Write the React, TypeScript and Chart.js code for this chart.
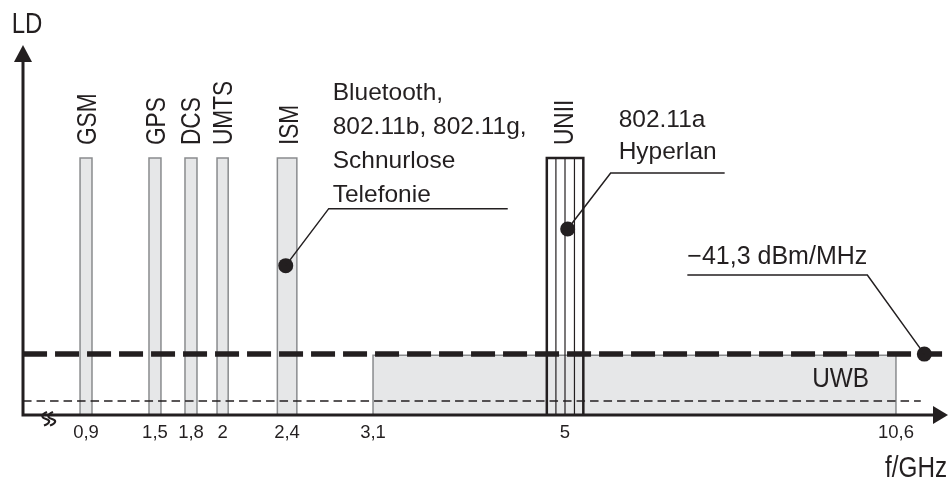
import React, { useEffect, useRef } from 'react';
import { Chart, registerables, LinearScale } from 'chart.js';

// ---------------- data ----------------
const BAND_NAMES = ['GSM', 'GPS', 'DCS', 'UMTS', 'ISM'];
const BAND_START = [0.848, 1.448, 1.75, 1.965, 2.34];   // GHz
const BAND_END = [0.952, 1.55, 1.838, 2.035, 2.48];     // GHz
const BAND_LEVEL = 70;                                  // LD (schematic)

const UNII_NAME = 'UNII';
const UNII_EDGES = [4.82, 4.91, 5.0, 5.16, 5.31];       // GHz
const UNII_LEVEL = 70;

const UWB_NAME = 'UWB';
const UWB_START = 3.1;
const UWB_END = 10.6;
const UWB_LEVEL = 16.3;

const LIMIT_LEVEL = 16.6;   // −41,3 dBm/MHz
const LOWER_LEVEL = 3.8;
const LINE_START = 0.352;
const LIMIT_END = 11.38;
const LOWER_END = 11.02;

const TICK_VALUES = [0.9, 1.5, 1.8, 2, 2.4, 3.1, 5, 10.6];
const TICK_LABELS = ['0,9', '1,5', '1,8', '2', '2,4', '3,1', '5', '10,6'];

const CALLOUT_FREQ = [2.392, 5.045, 11.08];
const CALLOUT_LEVEL = [40.7, 50.7, LIMIT_LEVEL];
const CALLOUT_TEXT = [
  ['Bluetooth,', '802.11b, 802.11g,', 'Schnurlose', 'Telefonie'],
  ['802.11a', 'Hyperlan'],
  ['\u221241,3 dBm/MHz'],
];

const Y_TITLE = 'LD';
const X_TITLE = 'f/GHz';

// ---------------- styles / layout ----------------
const INK = '#231f20';
const FILL = '#e6e7e8';
const EDGE = '#8a8c8e';
const FONT = '"Liberation Sans", Arial, sans-serif';
// schematic (broken) frequency axis: fraction of plot width at each tick value
const AXIS_FRACTIONS = [0.0691, 0.1447, 0.1842, 0.2188, 0.2895, 0.3838, 0.5943, 0.9572];
const CALLOUT_STYLE = [
  { dx: 43, dy: -57, len: 179, tx: 4, tb: -7, lh: 33.8, size: 24.5 },
  { dx: 43, dy: -56, len: 114, tx: 8, tb: -14.4, lh: 31.6, size: 24.5 },
  { dx: -57, dy: -79, len: -180, tx: -180, tb: -10.7, lh: 0, size: 25 },
];

class PiecewiseScale extends LinearScale {
  static id = 'piecewise';
  static defaults = LinearScale.defaults;
  _knots(): number[][] {
    return (this.options as any).knots as number[][];
  }
  getPixelForValue(value: number) {
    const k = this._knots();
    let i = 0;
    if (value >= k[k.length - 1][0]) i = k.length - 2;
    else {
      while (i < k.length - 2 && value > k[i + 1][0]) i++;
    }
    const [v0, f0] = k[i];
    const [v1, f1] = k[i + 1];
    const frac = f0 + ((value - v0) / (v1 - v0)) * (f1 - f0);
    return this.isHorizontal() ? this.left + frac * this.width : this.bottom - frac * this.height;
  }
  getValueForPixel(pixel: number) {
    const k = this._knots();
    const frac = this.isHorizontal() ? (pixel - this.left) / this.width : (this.bottom - pixel) / this.height;
    let i = 0;
    if (frac >= k[k.length - 1][1]) i = k.length - 2;
    else {
      while (i < k.length - 2 && frac > k[i + 1][1]) i++;
    }
    const [v0, f0] = k[i];
    const [v1, f1] = k[i + 1];
    return v0 + ((frac - f0) / (f1 - f0)) * (v1 - v0);
  }
}

Chart.register(...registerables, PiecewiseScale as any);

function hText(ctx: CanvasRenderingContext2D, s: string, x: number, yb: number, size: number, sx = 1, align: CanvasTextAlign = 'left') {
  ctx.save();
  ctx.font = `${size}px ${FONT}`;
  ctx.textAlign = align;
  ctx.textBaseline = 'alphabetic';
  ctx.translate(x, yb);
  ctx.scale(sx, 1);
  ctx.fillText(s, 0, 0);
  ctx.restore();
}

function vText(ctx: CanvasRenderingContext2D, s: string, cx: number, yStart: number, size: number, sx = 1) {
  ctx.save();
  ctx.font = `${size}px ${FONT}`;
  ctx.textAlign = 'left';
  ctx.textBaseline = 'alphabetic';
  ctx.translate(cx + (size * 0.716) / 2, yStart);
  ctx.rotate(-Math.PI / 2);
  ctx.scale(sx, 1);
  ctx.fillText(s, 0, 0);
  ctx.restore();
}

const overlay = {
  id: 'overlay',
  afterDatasetsDraw(chart: any) {
    const { ctx, chartArea: a } = chart;
    const x = chart.scales.x;
    const y = chart.scales.y;
    ctx.save();
    ctx.strokeStyle = INK;
    ctx.fillStyle = INK;

    // axes
    const y0 = y.getPixelForValue(0);
    ctx.lineWidth = 3;
    ctx.beginPath();
    ctx.moveTo(a.left, y0 + 1.5);
    ctx.lineTo(a.left, a.top + 12);
    ctx.moveTo(a.left - 1.5, y0);
    ctx.lineTo(a.right, y0);
    ctx.stroke();
    ctx.beginPath();
    ctx.moveTo(a.left, a.top - 3);
    ctx.lineTo(a.left - 9, a.top + 14);
    ctx.lineTo(a.left + 9, a.top + 14);
    ctx.closePath();
    ctx.fill();
    ctx.beginPath();
    ctx.moveTo(a.right + 13, y0);
    ctx.lineTo(a.right - 2, y0 - 9);
    ctx.lineTo(a.right - 2, y0 + 9);
    ctx.closePath();
    ctx.fill();

    // axis break symbol
    ctx.lineWidth = 2.2;
    for (const xo of [46, 52]) {
      ctx.beginPath();
      ctx.moveTo(xo + 1, y0 - 3);
      ctx.bezierCurveTo(xo - 6, y0 + 0, xo - 4, y0 + 3, xo, y0 + 4);
      ctx.bezierCurveTo(xo + 4, y0 + 5, xo + 5, y0 + 8, xo - 2, y0 + 10.5);
      ctx.stroke();
    }

    // tick labels
    TICK_VALUES.forEach((v, i) => {
      hText(ctx, TICK_LABELS[i], x.getPixelForValue(v), y0 + 23, 18.5, 1, 'center');
    });

    // band labels (vertical)
    const labTop = y.getPixelForValue(BAND_LEVEL) - 13;
    BAND_NAMES.forEach((n, i) => {
      const c = x.getPixelForValue((BAND_START[i] + BAND_END[i]) / 2);
      vText(ctx, n, c, labTop, 27, 0.84);
    });
    vText(ctx, UNII_NAME, x.getPixelForValue(UNII_EDGES[2]) - 1.5, y.getPixelForValue(UNII_LEVEL) - 13, 27, 0.84);

    // UWB label
    hText(ctx, UWB_NAME, x.getPixelForValue(UWB_END) - 27, y0 - 28.3, 28, 0.87, 'right');

    // axis titles
    hText(ctx, Y_TITLE, 11.7, 33.3, 30, 0.8);
    hText(ctx, X_TITLE, 885, 476.7, 30, 0.81);

    // callouts
    ctx.lineWidth = 1.5;
    CALLOUT_FREQ.forEach((f, i) => {
      const st = CALLOUT_STYLE[i];
      const px = x.getPixelForValue(f);
      const py = y.getPixelForValue(CALLOUT_LEVEL[i]);
      const ex = px + st.dx;
      const ey = py + st.dy;
      ctx.beginPath();
      ctx.moveTo(px, py);
      ctx.lineTo(ex, ey);
      ctx.lineTo(ex + st.len, ey);
      ctx.stroke();
      const lines = CALLOUT_TEXT[i];
      lines.forEach((s, j) => {
        const yb = ey + st.tb - (lines.length - 1 - j) * st.lh;
        hText(ctx, s, ex + st.tx, yb, st.size);
      });
    });
    ctx.restore();
  },
};

const box = (f0: number, f1: number, top: number) => [
  { x: f0, y: 0 },
  { x: f0, y: top },
  { x: f1, y: top },
  { x: f1, y: 0 },
];

export default function App() {
  const ref = useRef<HTMLCanvasElement | null>(null);
  useEffect(() => {
    document.body.style.margin = '0';
    if (!ref.current) return;
    const datasets: any[] = [];
    BAND_NAMES.forEach((n, i) => {
      datasets.push({
        label: n,
        data: box(BAND_START[i], BAND_END[i], BAND_LEVEL),
        fill: 'origin',
        backgroundColor: FILL,
        borderColor: EDGE,
        borderWidth: 1.5,
        pointRadius: 0,
        order: 4,
        clip: false,
      });
    });
    datasets.push({
      label: UWB_NAME,
      data: box(UWB_START, UWB_END, UWB_LEVEL),
      fill: 'origin',
      backgroundColor: FILL,
      borderColor: EDGE,
      borderWidth: 1.5,
      pointRadius: 0,
      order: 5,
      clip: false,
    });
    datasets.push({
      label: UNII_NAME,
      data: box(UNII_EDGES[0], UNII_EDGES[UNII_EDGES.length - 1], UNII_LEVEL),
      fill: false,
      borderColor: INK,
      borderWidth: 2.5,
      pointRadius: 0,
      order: 3,
      clip: false,
    });
    UNII_EDGES.slice(1, -1).forEach((e) => {
      datasets.push({
        label: UNII_NAME + ' sub',
        data: [{ x: e, y: 0 }, { x: e, y: UNII_LEVEL }],
        fill: false,
        borderColor: INK,
        borderWidth: 1.2,
        pointRadius: 0,
        order: 3,
        clip: false,
      });
    });
    datasets.push({
      label: 'lower',
      data: [{ x: LINE_START, y: LOWER_LEVEL }, { x: LOWER_END, y: LOWER_LEVEL }],
      fill: false,
      borderColor: INK,
      borderWidth: 1.5,
      borderDash: [8.5, 5],
      pointRadius: 0,
      order: 2,
      clip: false,
    });
    datasets.push({
      label: 'limit',
      data: [{ x: LINE_START, y: LIMIT_LEVEL }, { x: LIMIT_END, y: LIMIT_LEVEL }],
      fill: false,
      borderColor: INK,
      borderWidth: 5.5,
      borderDash: [24, 8],
      borderCapStyle: 'butt',
      pointRadius: 0,
      order: 1,
      clip: false,
    });
    datasets.push({
      label: 'dots',
      data: CALLOUT_FREQ.map((f, i) => ({ x: f, y: CALLOUT_LEVEL[i] })),
      showLine: false,
      pointRadius: 7.5,
      pointBackgroundColor: INK,
      pointBorderWidth: 0,
      order: 0,
      clip: false,
    });

    const chart = new Chart(ref.current, {
      type: 'line',
      data: { datasets },
      options: {
        animation: false,
        responsive: false,
        devicePixelRatio: 1,
        events: [],
        layout: { padding: { left: 23, right: 14, top: 48, bottom: 65 } },
        elements: { line: { tension: 0 } },
        plugins: { legend: { display: false }, tooltip: { enabled: false } },
        scales: {
          x: {
            type: 'piecewise',
            display: false,
            knots: TICK_VALUES.map((v, i) => [v, AXIS_FRACTIONS[i]]),
          } as any,
          y: { type: 'linear', display: false, min: 0, max: 100 },
        },
      },
      plugins: [overlay],
    } as any);
    return () => chart.destroy();
  }, []);
  return (
    <div style={{ width: 949, height: 480, background: '#fff' }}>
      <canvas ref={ref} width={949} height={480} style={{ display: 'block' }} />
    </div>
  );
}
